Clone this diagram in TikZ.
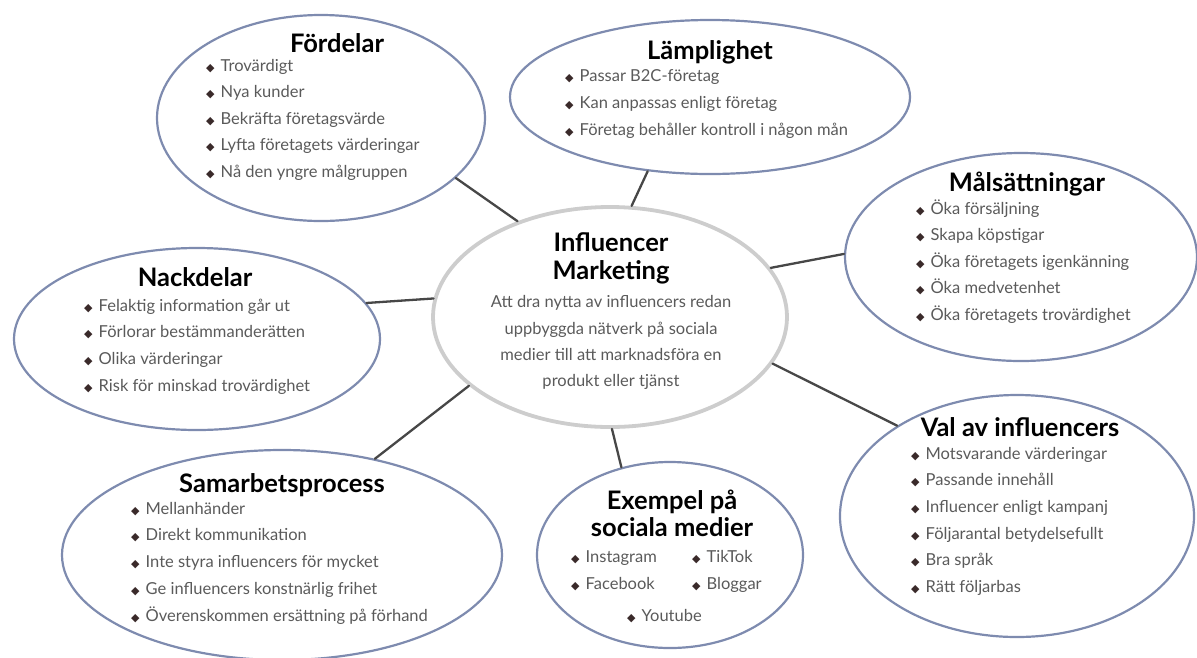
\documentclass[tikz,border=0pt]{standalone}
\usepackage{fontspec}
\setmainfont{Lato}
\newfontfamily\symfont{DejaVu Sans}
\usetikzlibrary{shapes.geometric}

\definecolor{rim}{HTML}{7E8BAF}
\definecolor{hubrim}{HTML}{CDCDCD}
\definecolor{linkcol}{HTML}{474747}
\definecolor{bodytext}{HTML}{5A5A5A}
\definecolor{markcol}{HTML}{3A2A2A}

% diamond bullet in front of every list entry
\newcommand\bul{{\symfont\fontsize{11}{11}\selectfont\color{markcol}◆}\hspace{6pt}}

\tikzset{
  bubble/.style={ellipse, draw=rim, line width=2.2pt, inner sep=0pt},
  hub/.style={ellipse, draw=hubrim, line width=3.8pt, inner sep=0pt},
  link/.style={draw=linkcol, line width=2.3pt, line cap=round},
  head/.style={font=\bfseries\fontsize{25.5}{27}\selectfont, text=black,
    inner sep=0pt, text height=18pt, text depth=0pt},
  entry/.style={anchor=west, font=\fontsize{16.5}{19}\selectfont, text=bodytext,
    inner sep=0pt, text height=12pt, text depth=3.5pt},
  desc/.style={font=\fontsize{16.5}{19}\selectfont, text=bodytext,
    inner sep=0pt, text height=12pt, text depth=3.5pt},
}

\begin{document}
\begin{tikzpicture}[x=1pt, y=-1pt]
\useasboundingbox (0,0) rectangle (1197,657);

% the eight bubbles
\node[hub,    minimum width=354pt, minimum height=220pt] (cen)  at (610,317) {};
\node[bubble, minimum width=328pt, minimum height=206pt] (ford) at (321,118) {};
\node[bubble, minimum width=400pt, minimum height=154pt] (lamp) at (710,97)  {};
\node[bubble, minimum width=352pt, minimum height=208pt] (mals) at (1021,257) {};
\node[bubble, minimum width=366pt, minimum height=182pt] (nack) at (197,339) {};
\node[bubble, minimum width=354pt, minimum height=242pt] (val)  at (1017,516) {};
\node[bubble, minimum width=440pt, minimum height=210pt] (sam)  at (282,555) {};
\node[bubble, minimum width=266pt, minimum height=186pt] (exe)  at (670,555) {};

% spokes from the hub
\draw[link] (cen.134)   -- (ford.-24);
\draw[link] (cen.79)    -- (lamp.-130);
\draw[link] (cen.17.5)  -- (mals.179.4);
\draw[link] (cen.174)   -- (nack.12);
\draw[link] (cen.-154)  -- (sam.46.5);
\draw[link] (cen.-89.5) -- (exe.119.5);
\draw[link] (cen.-16.4) -- (val.143);

% hub text
\node[head] (cenA) at (611,242) {Influencer};
\node[head] (cenB) at (611,270) {Marketing};
\node[desc] (cd1) at (611,303) {Att dra nytta av influencers redan};
\node[desc] (cd2) at (611,330) {uppbyggda nätverk på sociala};
\node[desc] (cd3) at (611,356) {medier till att marknadsföra en};
\node[desc] (cd4) at (611,382) {produkt eller tjänst};

% Fördelar
\node[head] (fordT) at (337,43) {Fördelar};
\foreach \t [count=\i from 0] in {Trovärdigt, Nya kunder, Bekräfta företagsvärde,
  Lyfta företagets värderingar, Nå den yngre målgruppen}
  \node[entry] (ford\i) at (206,{67+26.5*\i}) {\bul\t};

% Lämplighet
\node[head] (lampT) at (710,50) {Lämplighet};
\foreach \t [count=\i from 0] in {Passar B2C-företag, Kan anpassas enligt företag,
  Företag behåller kontroll i någon mån}
  \node[entry] (lamp\i) at (565,{77+27*\i}) {\bul\t};

% Målsättningar
\node[head] (malsT) at (1027,182) {Målsättningar};
\foreach \t [count=\i from 0] in {Öka försäljning, Skapa köpstigar,
  Öka företagets igenkänning, Öka medvetenhet, Öka företagets trovärdighet}
  \node[entry] (mals\i) at (916,{210+26.5*\i}) {\bul\t};

% Nackdelar
\node[head] (nackT) at (195,277) {Nackdelar};
\foreach \t [count=\i from 0] in {Felaktig information går ut, Förlorar bestämmanderätten,
  Olika värderingar, Risk för minskad trovärdighet}
  \node[entry] (nack\i) at (84,{307+26.7*\i}) {\bul\t};

% Val av influencers
\node[head] (valT) at (1020,427) {Val av influencers};
\foreach \t [count=\i from 0] in {Motsvarande värderingar, Passande innehåll,
  Influencer enligt kampanj, Följarantal betydelsefullt, Bra språk, Rätt följarbas}
  \node[entry] (val\i) at (911,{455+26.6*\i}) {\bul\t};

% Samarbetsprocess
\node[head] (samT) at (282,483) {Samarbetsprocess};
\foreach \t [count=\i from 0] in {Mellanhänder, Direkt kommunikation,
  Inte styra influencers för mycket, Ge influencers konstnärlig frihet,
  Överenskommen ersättning på förhand}
  \node[entry] (sam\i) at (131,{510+26.7*\i}) {\bul\t};

% Exempel på sociala medier
\node[head] (exeA) at (672,500) {Exempel på};
\node[head] (exeB) at (672,527) {sociala medier};
\node[entry] (exe1) at (571,558) {\bul Instagram};
\node[entry] (exe2) at (571,585) {\bul Facebook};
\node[entry] (exe3) at (692,558) {\bul TikTok};
\node[entry] (exe4) at (692,585) {\bul Bloggar};
\node[entry] (exe5) at (627,617) {\bul Youtube};
\end{tikzpicture}
\end{document}
